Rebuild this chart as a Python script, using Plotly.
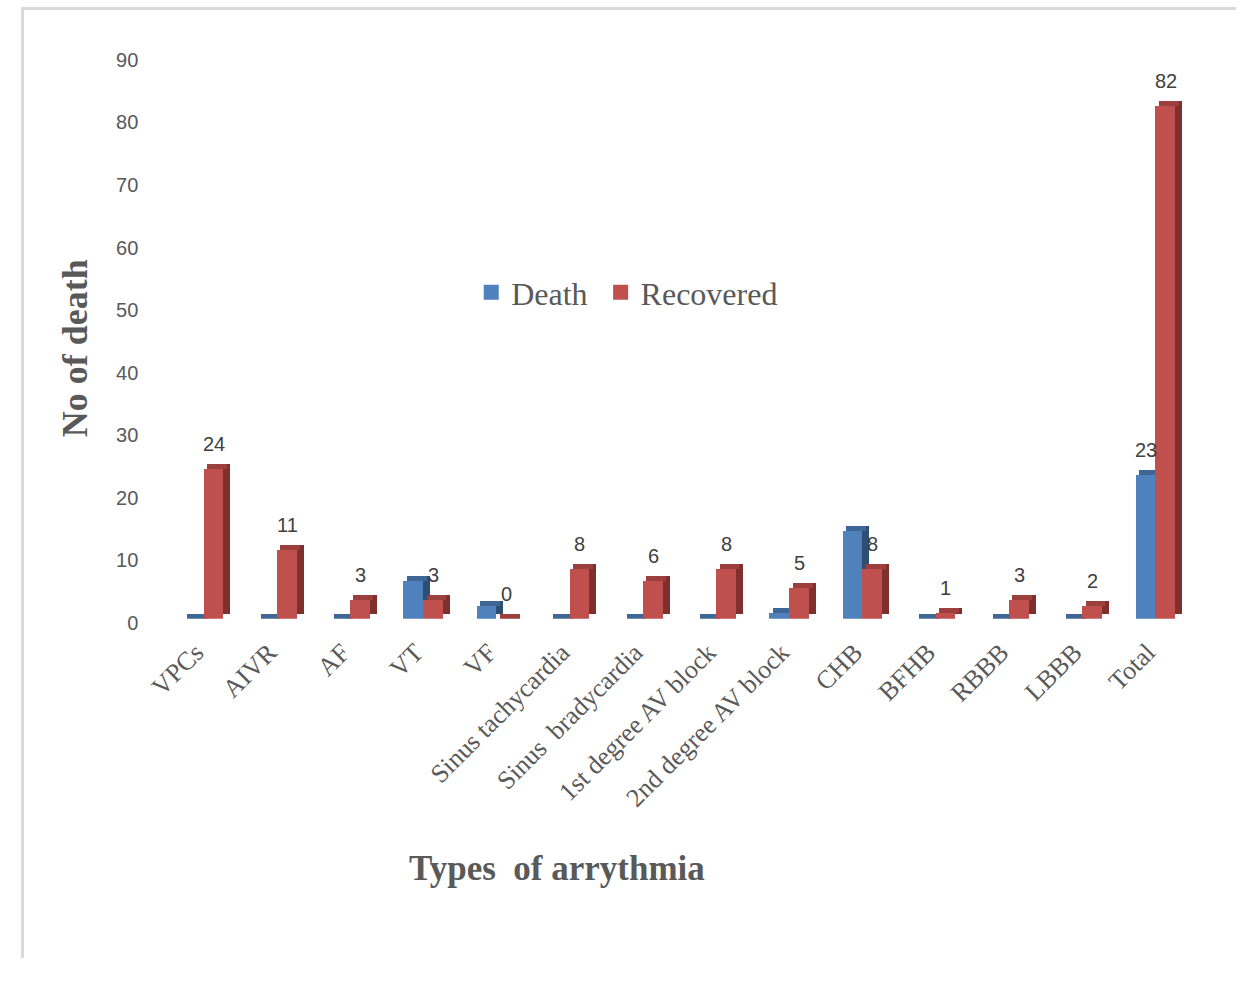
import plotly.graph_objects as go

categories = ["VPCs", "AIVR", "AF", "VT", "VF", "Sinus tachycardia", "Sinus  bradycardia",
              "1st degree AV block", "2nd degree AV block", "CHB", "BFHB", "RBBB", "LBBB", "Total"]
death = [0, 0, 0, 6, 2, 0, 0, 0, 1, 14, 0, 0, 0, 23]
recovered = [24, 11, 3, 3, 0, 8, 6, 8, 5, 8, 1, 3, 2, 82]
y_ticks = [0, 10, 20, 30, 40, 50, 60, 70, 80, 90]

BLUE, BLUE_TOP, BLUE_SIDE = "#4F81BD", "#3F6796", "#2F4E74"
RED, RED_TOP, RED_SIDE = "#C0504D", "#9C3F3D", "#7E302E"
W = 0.27      # front face width (category units)
DX = 0.095    # depth shift (category units)
DY = 0.8      # depth rise (data units)

# page body keeps an 8px margin; keep the figure inside the 1252x989 window
W_PX, H_PX = 1236, 973
OFF = 8


def px_x(sx):
    return (sx - OFF) / W_PX


def px_y(sy):
    return 1 - (sy - OFF) / H_PX


fig = go.Figure()


def add_3d_bars(values, front_offset, c_front, c_top, c_side, name):
    # side face (shifted back and up)
    fig.add_trace(go.Bar(x=categories, y=values, base=DY, offset=front_offset + DX, width=W,
                         marker=dict(color=c_side, line_width=0), showlegend=False, hoverinfo="skip"))
    # top face
    fig.add_trace(go.Bar(x=categories, y=[DY] * len(values), base=values,
                         offset=front_offset + DX / 2, width=W,
                         marker=dict(color=c_top, line_width=0), showlegend=False, hoverinfo="skip"))
    # front face
    fig.add_trace(go.Bar(x=categories, y=values, name=name, offset=front_offset, width=W,
                         marker=dict(color=c_front, line_width=0), showlegend=False))


add_3d_bars(death, -W, BLUE, BLUE_TOP, BLUE_SIDE, "Death")
add_3d_bars(recovered, 0, RED, RED_TOP, RED_SIDE, "Recovered")

# legend entries with larger square swatches
fig.add_trace(go.Scatter(x=[None], y=[None], mode="markers", name="Death\u00a0",
                         marker=dict(symbol="square", size=15, color=BLUE)))
fig.add_trace(go.Scatter(x=[None], y=[None], mode="markers", name="Recovered",
                         marker=dict(symbol="square", size=15, color=RED)))

label_font = dict(family="Liberation Sans, Arial", size=20, color="#404040")
annotations = []
for c, v in zip(categories, recovered):
    annotations.append(dict(x=c, y=v, xref="x", yref="y", text=str(v), showarrow=False,
                            xshift=10, yshift=25, font=label_font))
annotations.append(dict(x=categories[-1], y=death[-1], xref="x", yref="y", text=str(death[-1]),
                        showarrow=False, xshift=-10, yshift=25, font=label_font))

# axis titles
annotations.append(dict(x=px_x(63), y=px_y(357), xref="paper", yref="paper",
                        xanchor="center", yanchor="middle",
                        text="<b>No of death</b>", textangle=-90, showarrow=False,
                        font=dict(family="Liberation Serif, Times New Roman", size=36, color="#595959")))
annotations.append(dict(x=px_x(553), y=px_y(889), xref="paper", yref="paper",
                        xanchor="center", yanchor="middle",
                        text="<b>Types  of arrythmia</b>", showarrow=False,
                        font=dict(family="Liberation Serif, Times New Roman", size=35, color="#595959")))

fig.update_layout(
    width=W_PX, height=H_PX,
    margin=dict(l=0, r=0, t=0, b=0),
    paper_bgcolor="white", plot_bgcolor="white",
    barmode="overlay",
    bargap=0,
    annotations=annotations,
    legend=dict(orientation="h", x=px_x(466), y=px_y(300), xanchor="left", yanchor="middle",
                font=dict(family="Liberation Serif, Times New Roman", size=32, color="#595959"),
                bgcolor="rgba(0,0,0,0)", itemwidth=30, traceorder="normal"),
    xaxis=dict(domain=[px_x(156.8), px_x(1199.4)], range=[-0.5, 13.5],
               showgrid=False, showline=False, zeroline=False,
               tickangle=-45, ticks="outside", ticklen=7, tickcolor="rgba(0,0,0,0)",
               ticklabelshift=-8,
               tickfont=dict(family="Liberation Serif, Times New Roman", size=26, color="#595959")),
    yaxis=dict(domain=[px_y(634), px_y(58)], range=[0, 90],
               tickvals=y_ticks, showgrid=False, showline=False, zeroline=False,
               ticks="outside", ticklen=24, tickcolor="rgba(0,0,0,0)",
               ticklabelshift=4,
               tickfont=dict(family="Liberation Sans, Arial", size=20, color="#595959")),
    shapes=[
        dict(type="line", xref="paper", yref="paper", x0=0, x1=1, y0=1 - 1.5 / H_PX, y1=1 - 1.5 / H_PX,
             line=dict(color="#D9D9D9", width=3)),
        dict(type="line", xref="paper", yref="paper", x0=1.5 / W_PX, x1=1.5 / W_PX, y0=0, y1=1,
             line=dict(color="#D9D9D9", width=3)),
    ],
)

fig.write_html("out.html")
